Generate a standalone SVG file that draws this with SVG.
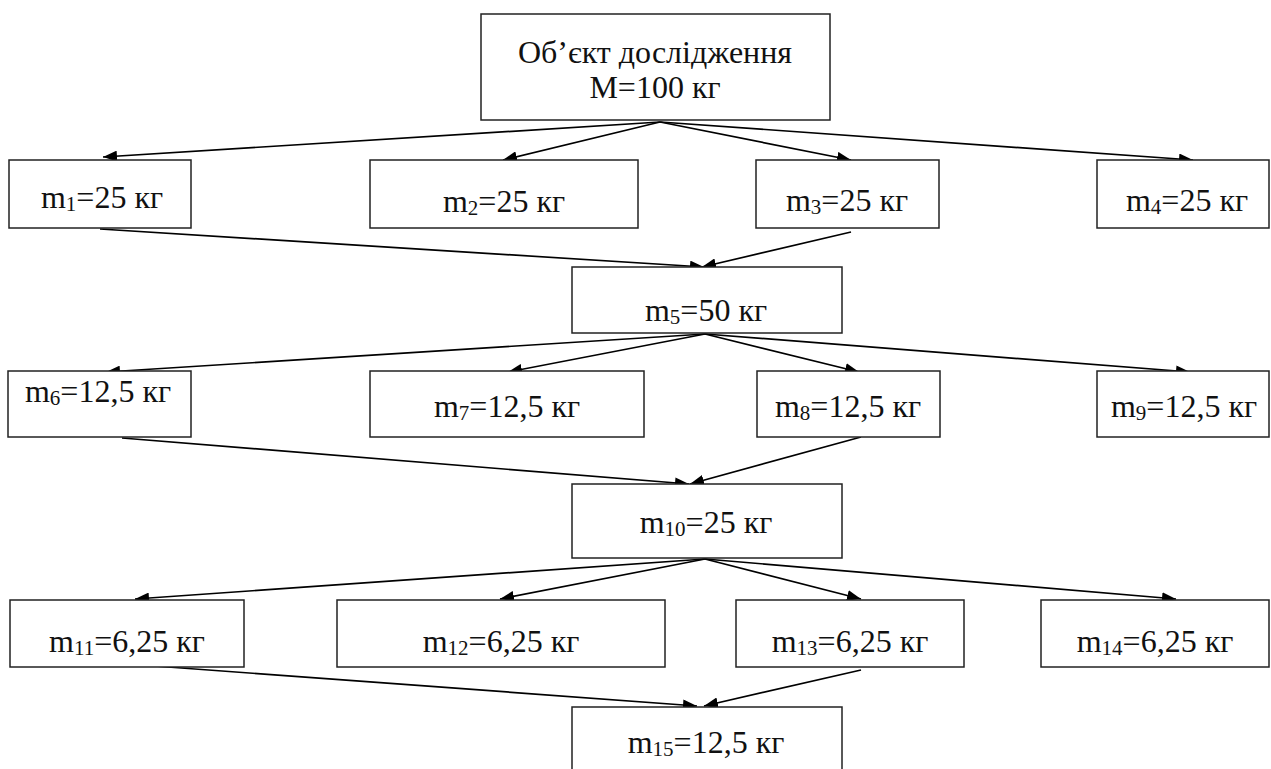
<svg xmlns="http://www.w3.org/2000/svg" width="1271" height="769" viewBox="0 0 1271 769" font-family="'Liberation Serif', 'Times New Roman', 'DejaVu Serif', serif">
<defs>
<marker id="ah" markerUnits="userSpaceOnUse" markerWidth="15" markerHeight="11" refX="14" refY="5.5" orient="auto">
<path d="M0,0 L14,5.5 L0,11 z" fill="#000"/>
</marker>
</defs>
<style>
.box{fill:#fff;stroke:#222;stroke-width:1.5}
.t{font-family:'Liberation Serif','Times New Roman','DejaVu Serif',serif;font-size:32px;fill:#111;text-anchor:middle}
.s{font-size:21px}
.c{stroke:#000;stroke-width:1.7;fill:none;marker-end:url(#ah)}
</style>
<rect width="1271" height="769" fill="#fff"/>
<g id="connectors">
<line class="c" x1="660" y1="122" x2="103" y2="157"/>
<line class="c" x1="660" y1="122" x2="503" y2="160"/>
<line class="c" x1="660" y1="122" x2="851" y2="160"/>
<line class="c" x1="660" y1="122" x2="1193" y2="160"/>
<line class="c" x1="100" y1="229" x2="704" y2="267"/>
<line class="c" x1="851" y1="232" x2="702" y2="267"/>
<line class="c" x1="705" y1="334" x2="106" y2="372"/>
<line class="c" x1="705" y1="334" x2="508" y2="372"/>
<line class="c" x1="705" y1="334" x2="859" y2="372"/>
<line class="c" x1="705" y1="334" x2="1190" y2="372"/>
<line class="c" x1="122" y1="438" x2="689" y2="484"/>
<line class="c" x1="861" y1="437" x2="690" y2="484"/>
<line class="c" x1="705" y1="559" x2="135" y2="599"/>
<line class="c" x1="705" y1="559" x2="500" y2="599"/>
<line class="c" x1="705" y1="559" x2="861" y2="599"/>
<line class="c" x1="705" y1="559" x2="1176" y2="599"/>
<line class="c" x1="127" y1="664" x2="697" y2="706"/>
<line class="c" x1="861" y1="670" x2="704" y2="706"/>
</g>
<g id="n0"><rect class="box" x="481" y="14" width="349" height="106"/>
<text class="t" x="655" y="63">Об’єкт дослідження</text>
<text class="t" x="655" y="98">M=100 кг</text></g>
<g id="n1"><rect class="box" x="9" y="160" width="182" height="68"/>
<text class="t" x="102" y="208">m<tspan class="s" dy="3">1</tspan><tspan dy="-3">=25 кг</tspan></text></g>
<g id="n2"><rect class="box" x="370" y="160" width="268" height="68"/>
<text class="t" x="504" y="212">m<tspan class="s" dy="3">2</tspan><tspan dy="-3">=25 кг</tspan></text></g>
<g id="n3"><rect class="box" x="756" y="160" width="183" height="68"/>
<text class="t" x="847" y="211">m<tspan class="s" dy="3">3</tspan><tspan dy="-3">=25 кг</tspan></text></g>
<g id="n4"><rect class="box" x="1097" y="160" width="172" height="68"/>
<text class="t" x="1187" y="211">m<tspan class="s" dy="3">4</tspan><tspan dy="-3">=25 кг</tspan></text></g>
<g id="n5"><rect class="box" x="572" y="267" width="270" height="66"/>
<text class="t" x="706" y="321">m<tspan class="s" dy="3">5</tspan><tspan dy="-3">=50 кг</tspan></text></g>
<g id="n6"><rect class="box" x="8" y="371" width="183" height="66"/>
<text class="t" x="98" y="402">m<tspan class="s" dy="3">6</tspan><tspan dy="-3">=12,5 кг</tspan></text></g>
<g id="n7"><rect class="box" x="370" y="371" width="274" height="66"/>
<text class="t" x="507" y="417">m<tspan class="s" dy="3">7</tspan><tspan dy="-3">=12,5 кг</tspan></text></g>
<g id="n8"><rect class="box" x="757" y="371" width="183" height="66"/>
<text class="t" x="848" y="417">m<tspan class="s" dy="3">8</tspan><tspan dy="-3">=12,5 кг</tspan></text></g>
<g id="n9"><rect class="box" x="1097" y="371" width="172" height="66"/>
<text class="t" x="1184" y="417">m<tspan class="s" dy="3">9</tspan><tspan dy="-3">=12,5 кг</tspan></text></g>
<g id="n10"><rect class="box" x="572" y="484" width="270" height="74"/>
<text class="t" x="706" y="533">m<tspan class="s" dy="3">10</tspan><tspan dy="-3">=25 кг</tspan></text></g>
<g id="n11"><rect class="box" x="10" y="600" width="234" height="67"/>
<text class="t" x="127" y="652">m<tspan class="s" dy="3">11</tspan><tspan dy="-3">=6,25 кг</tspan></text></g>
<g id="n12"><rect class="box" x="337" y="600" width="328" height="67"/>
<text class="t" x="501" y="652">m<tspan class="s" dy="3">12</tspan><tspan dy="-3">=6,25 кг</tspan></text></g>
<g id="n13"><rect class="box" x="736" y="600" width="228" height="67"/>
<text class="t" x="850" y="652">m<tspan class="s" dy="3">13</tspan><tspan dy="-3">=6,25 кг</tspan></text></g>
<g id="n14"><rect class="box" x="1041" y="600" width="228" height="67"/>
<text class="t" x="1155" y="652">m<tspan class="s" dy="3">14</tspan><tspan dy="-3">=6,25 кг</tspan></text></g>
<g id="n15"><rect class="box" x="572" y="707" width="270" height="70"/>
<text class="t" x="706" y="753">m<tspan class="s" dy="3">15</tspan><tspan dy="-3">=12,5 кг</tspan></text></g>
</svg>
